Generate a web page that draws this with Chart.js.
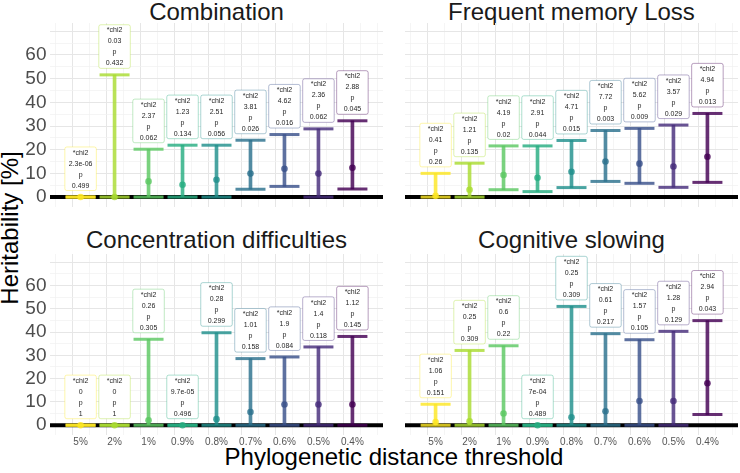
<!DOCTYPE html>
<html>
<head>
<meta charset="utf-8">
<script src="https://cdn.jsdelivr.net/npm/chart.js@4"></script>
<style>
  body { margin: 0; background: #fff; }
  #page { position: relative; width: 740px; height: 473px; overflow: hidden; font-family: "Liberation Sans", Arial, sans-serif; }
  canvas { position: absolute; }
  .ttl { position: absolute; font-size: 24px; line-height: 24px; white-space: nowrap; color: #1a1a1a; text-align: center; }
</style>
</head>
<body>
<div id="page">
  <div class="ttl" style="left:50px;width:333px;top:0px">Combination</div>
  <div class="ttl" style="left:405px;width:333px;top:0px">Frequent memory Loss</div>
  <div class="ttl" style="left:50px;width:333px;top:228px">Concentration difficulties</div>
  <div class="ttl" style="left:405px;width:333px;top:228px">Cognitive slowing</div>
  <div class="ttl" style="left:194px;width:400px;top:445px;color:#000">Phylogenetic distance threshold</div>
  <div class="ttl" style="left:-190px;width:400px;top:216px;color:#000;transform:rotate(-90deg)">Heritability [%]</div>
  <canvas id="c1" width="363" height="184" style="left:20px;top:23px"></canvas>
  <canvas id="c2" width="333" height="184" style="left:405px;top:23px"></canvas>
  <canvas id="c3" width="363" height="199" style="left:20px;top:254px"></canvas>
  <canvas id="c4" width="333" height="199" style="left:405px;top:254px"></canvas>
</div>
<script>
const thresholds = ['5%', '2%', '1%', '0.9%', '0.8%', '0.7%', '0.6%', '0.5%', '0.4%'];
const colors = ['#FDE725', '#AADC32', '#5DC863', '#27AD81', '#21908C', '#2C728E', '#3B528B', '#472D7B', '#440154'];

// Combination
const combEst = [0, 0, 6.6, 5.2, 7.3, 9.9, 11.9, 9.9, 12.4];
const combLo = [0, 0, 0, 0, 0, 3.3, 4.5, 0, 3.4];
const combHi = [0, 51.6, 20.2, 21.9, 21.9, 24.0, 26.4, 28.8, 32.2];
const combChi = ['2.3e-06', '0.03', '2.37', '1.23', '2.51', '3.81', '4.62', '2.36', '2.88'];
const combP = ['0.499', '0.432', '0.062', '0.134', '0.056', '0.026', '0.016', '0.062', '0.045'];

// Frequent memory Loss
const memEst = [0.5, 3.1, 9.3, 8.1, 10.7, 15.0, 14.1, 12.9, 17.0];
const memLo = [0, 0, 3.1, 2.3, 4.0, 6.6, 5.8, 4.1, 6.2];
const memHi = [10.0, 14.3, 21.6, 21.6, 23.9, 28.1, 29.0, 30.4, 35.3];
const memChi = ['0.41', '1.21', '4.19', '2.91', '4.71', '7.72', '5.62', '3.57', '4.94'];
const memP = ['0.26', '0.135', '0.02', '0.044', '0.015', '0.003', '0.009', '0.029', '0.013'];

// Concentration difficulties
const concEst = [0, 0, 2.1, 0, 2.6, 5.7, 8.9, 8.9, 8.9];
const concLo = [0, 0, 0, 0, 0, 0, 0, 0, 0];
const concHi = [0, 0, 36.9, 0, 39.7, 28.6, 29.3, 33.6, 38.1];
const concChi = ['0', '0', '0.26', '9.7e-05', '0.28', '1.01', '1.9', '1.4', '1.12'];
const concP = ['1', '1', '0.305', '0.496', '0.299', '0.158', '0.084', '0.118', '0.145'];

// Cognitive slowing
const cogEst = [1.4, 1.7, 5.0, 0, 3.4, 6.0, 10.4, 10.4, 18.0];
const cogLo = [0, 0, 0, 0, 0, 0, 0, 0, 4.6];
const cogHi = [9.0, 32.1, 34.1, 0, 51.0, 39.3, 36.7, 40.3, 44.9];
const cogChi = ['1.06', '0.25', '0.6', '7e-04', '0.25', '0.61', '1.57', '1.28', '2.94'];
const cogP = ['0.151', '0.309', '0.22', '0.489', '0.309', '0.217', '0.105', '0.129', '0.043'];

Chart.defaults.font.family = '"Liberation Sans", Arial, sans-serif';

function rgba(hex, a) {
  const n = parseInt(hex.slice(1), 16);
  return `rgba(${n >> 16}, ${(n >> 8) & 255}, ${n & 255}, ${a})`;
}
const solid = colors.map(c => rgba(c, 0.82));
const soft = colors.map(c => rgba(c, 0.38));

// major / minor grid helpers
const isMajorX = c => c.tick && Number.isInteger(c.tick.value);
const isMajorY = c => c.tick && c.tick.value % 10 === 0;

// thick black line at zero
const baseline = {
  id: 'baseline',
  beforeDatasetsDraw(chart) {
    const { ctx, chartArea, scales } = chart;
    const y = scales.y.getPixelForValue(0);
    ctx.save();
    ctx.strokeStyle = '#000';
    ctx.lineWidth = 4;
    ctx.beginPath();
    ctx.moveTo(chartArea.left, y);
    ctx.lineTo(chartArea.right, y);
    ctx.stroke();
    ctx.restore();
  }
};

// boxed chi2 / p labels above each upper cap
const boxes = {
  id: 'boxes',
  afterDatasetsDraw(chart, args, opts) {
    const { ctx, scales } = chart;
    const w = 31.5, h = 43.6;
    ctx.save();
    opts.hi.forEach((v, i) => {
      const x = scales.x.getPixelForValue(i + 1);
      const bottom = scales.y.getPixelForValue(v) - 6.5;
      const top = bottom - h;
      ctx.beginPath();
      ctx.roundRect(x - w / 2, top, w, h, 2);
      ctx.fillStyle = '#fff';
      ctx.fill();
      ctx.lineWidth = 1;
      ctx.strokeStyle = soft[i];
      ctx.stroke();
      ctx.fillStyle = '#262626';
      ctx.font = '7px "Liberation Sans", Arial, sans-serif';
      ctx.textAlign = 'center';
      ctx.textBaseline = 'middle';
      ['*chi2', opts.chi[i], 'p', opts.p[i]].forEach((t, k) => {
        ctx.fillText(t, x, top + 5.8 + k * 11);
      });
    });
    ctx.restore();
  }
};

function panel(id, est, lo, hi, chi, p, showY, showX) {
  const pts = a => a.map((v, i) => ({ x: i + 1, y: v }));
  new Chart(document.getElementById(id), {
    type: 'bar',
    data: {
      datasets: [
        { type: 'scatter', order: 0, data: pts(est), pointRadius: 3.3, pointBackgroundColor: solid, pointBorderColor: solid, pointBorderWidth: 0 },
        { type: 'scatter', order: 1, data: pts(hi), pointStyle: 'line', pointRadius: 15, pointBorderColor: solid, pointBorderWidth: 3 },
        { type: 'scatter', order: 1, data: pts(lo), pointStyle: 'line', pointRadius: 15, pointBorderColor: solid, pointBorderWidth: 3 },
        { type: 'bar', order: 2, data: lo.map((v, i) => ({ x: i + 1, y: [v, hi[i]] })), backgroundColor: solid, barThickness: 3, borderWidth: 0 }
      ]
    },
    options: {
      responsive: false,
      animation: false,
      events: [],
      layout: { padding: 0, autoPadding: false },
      plugins: { legend: { display: false }, tooltip: { enabled: false }, boxes: { hi, chi, p } },
      scales: {
        x: {
          type: 'linear', min: 0.1, max: 9.9, offset: false,
          afterBuildTicks: s => { s.ticks = []; for (let v = 0.5; v <= 9.5; v += 0.5) s.ticks.push({ value: v }); },
          afterFit: s => { s.height = showX ? 18 : 0; s.paddingLeft = 0; s.paddingRight = 0; },
          ticks: { display: showX, autoSkip: false, maxRotation: 0, padding: 1.5, color: '#555', font: { size: 10 },
            callback: v => Number.isInteger(v) ? thresholds[v - 1] : '' },
          grid: { drawTicks: false, color: c => isMajorX(c) ? '#E6E6E6' : '#F0F0F0', lineWidth: c => isMajorX(c) ? 1 : 0.7 },
          border: { display: false }
        },
        y: {
          min: -4.2, max: 73.5,
          afterBuildTicks: s => { s.ticks = []; for (let v = 0; v <= 70; v += 5) s.ticks.push({ value: v }); },
          afterFit: s => { s.width = showY ? 30 : 0; s.paddingTop = 0; s.paddingBottom = 0; },
          ticks: { display: showY, autoSkip: false, padding: 3.5, color: '#4D4D4D', font: { size: 19 },
            callback: v => (v % 10 === 0 && v <= 60) ? v : '' },
          grid: { drawTicks: false, color: c => isMajorY(c) ? '#E6E6E6' : '#F0F0F0', lineWidth: c => isMajorY(c) ? 1 : 0.7 },
          border: { display: false }
        }
      }
    },
    plugins: [baseline, boxes]
  });
}

panel('c1', combEst, combLo, combHi, combChi, combP, true, false);
panel('c2', memEst, memLo, memHi, memChi, memP, false, false);
panel('c3', concEst, concLo, concHi, concChi, concP, true, true);
panel('c4', cogEst, cogLo, cogHi, cogChi, cogP, false, true);
</script>
</body>
</html>
